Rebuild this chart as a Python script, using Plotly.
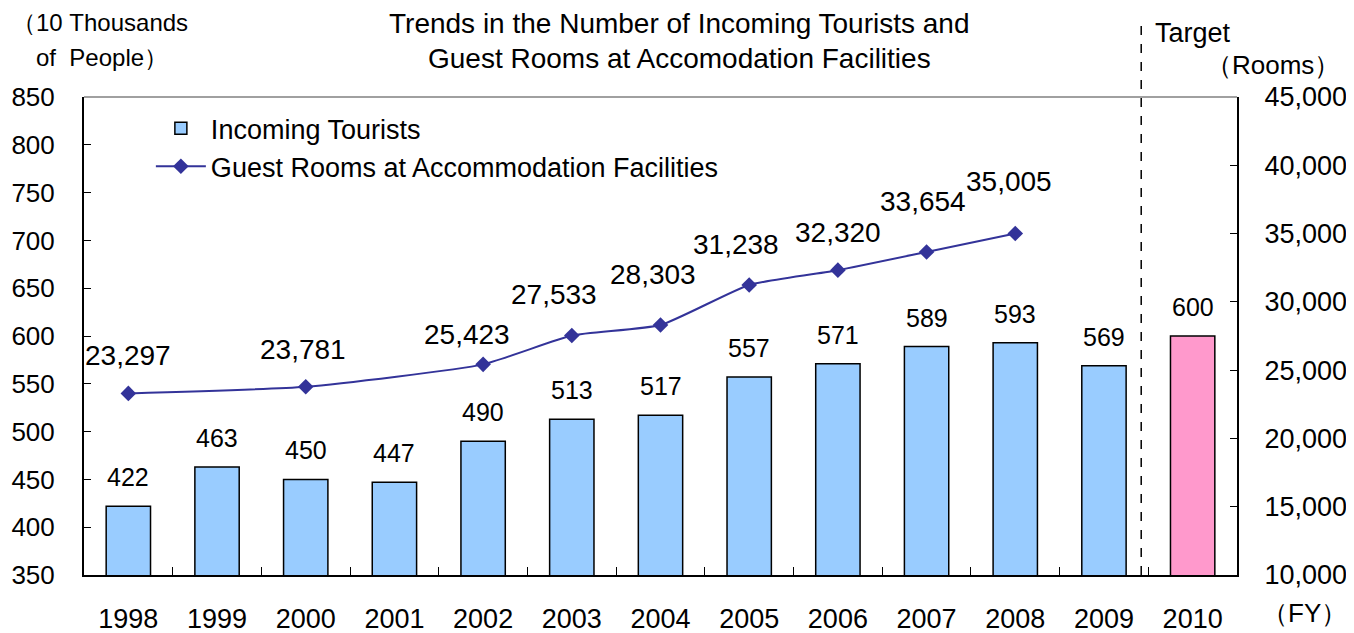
import plotly.graph_objects as go

years = ['1998', '1999', '2000', '2001', '2002', '2003', '2004', '2005', '2006', '2007', '2008', '2009', '2010']
tourists = [422, 463, 450, 447, 490, 513, 517, 557, 571, 589, 593, 569, 600]
room_years = ['1998', '2000', '2002', '2003', '2004', '2005', '2006', '2007', '2008']
rooms = [23297, 23781, 25423, 27533, 28303, 31238, 32320, 33654, 35005]
left_ticks = [350, 400, 450, 500, 550, 600, 650, 700, 750, 800, 850]
right_ticks = [10000, 15000, 20000, 25000, 30000, 35000, 40000, 45000]

# where each rooms label sits relative to its marker (px)
label_dx = [0, -3, -16, -18, -8, -13, 0, -4, -6]
label_dy = [38, 37, 30, 41, 51, 40, 38, 50, 52]

FONT = 'Liberation Sans, Arial, sans-serif'
bar_colors = ['#99CCFF'] * (len(years) - 1) + ['#FF99CC']

fig = go.Figure()
fig.add_trace(go.Bar(x=years, y=tourists, name='Incoming Tourists',
                     marker=dict(color=bar_colors, line=dict(color='black', width=1.5)),
                     width=0.5))
fig.add_trace(go.Scatter(x=room_years, y=rooms, name='Guest Rooms at Accommodation Facilities',
                         mode='lines+markers', yaxis='y2',
                         line=dict(color='#333399', width=2, shape='spline', smoothing=0.5),
                         marker=dict(symbol='diamond', size=12, color='#333399')))

# bar value labels (category axis -> index positions)
for i, v in enumerate(tourists):
    fig.add_annotation(x=i, y=v, text=str(v), showarrow=False, yshift=29,
                       font=dict(size=25, color='black', family=FONT))
# rooms value labels
for yr, v, dx, dy in zip(room_years, rooms, label_dx, label_dy):
    fig.add_annotation(x=years.index(yr), y=v, yref='y2', text=f'{v:,}', showarrow=False,
                       xshift=dx, yshift=dy, font=dict(size=28, color='black', family=FONT))

# dashed separator before target year
fig.add_shape(type='line', xref='x', yref='paper', x0=11.42, x1=11.42, y0=0, y1=1.161,
              line=dict(color='black', width=1.5, dash='dash'))
# top frame line
fig.add_shape(type='line', xref='paper', yref='paper', x0=0, x1=1, y0=1, y1=1,
              line=dict(color='#808080', width=1.5))

def note(text, x, y, xanchor, size):
    fig.add_annotation(xref='paper', yref='paper', x=x, y=y, xanchor=xanchor, yanchor='middle',
                       text=text, showarrow=False, font=dict(size=size, color='black', family=FONT))

note('Trends in the Number of Incoming Tourists and', 0.5165, 1.153, 'center', 28)
note('Guest Rooms at Accomodation Facilities', 0.5165, 1.0814, 'center', 28)
note('\uff0810 Thousands', -0.064, 1.1566, 'left', 24)
note('of  People\uff09', -0.043, 1.0835, 'left', 24)
note('Target', 0.927, 1.1336, 'left', 27)
note('\uff08Rooms\uff09', 1.091, 1.0668, 'right', 26)
note('\uff08FY\uff09', 1.097, -0.08, 'right', 26)

fig.update_layout(
    width=1346, height=625,
    margin=dict(l=76, r=117, t=89, b=58),
    plot_bgcolor='white', paper_bgcolor='white',
    font=dict(family=FONT, color='black'),
    showlegend=True,
    legend=dict(x=0.058, y=0.985, xanchor='left', yanchor='top', bgcolor='rgba(0,0,0,0)',
                font=dict(size=27, family=FONT), tracegroupgap=0, itemwidth=50),
    xaxis=dict(type='category', showline=True, linecolor='black', linewidth=2,
               ticks='inside', ticklen=8, tickcolor='black', tickson='boundaries',
               tickfont=dict(size=27), ticklabelstandoff=19, showgrid=False,
               range=[-0.5, 12.5], automargin=False),
    yaxis=dict(range=[350, 850], tickvals=left_ticks, showline=True, linecolor='black', linewidth=2,
               ticks='inside', ticklen=7, tickcolor='black', showgrid=False,
               tickfont=dict(size=26), ticklabelstandoff=22, zeroline=False, automargin=False),
    yaxis2=dict(range=[10000, 45000], tickvals=right_ticks, tickformat=',', overlaying='y', side='right',
                showline=True, linecolor='black', linewidth=2, ticks='inside', ticklen=7,
                tickcolor='black', showgrid=False, tickfont=dict(size=27), ticklabelstandoff=20,
                zeroline=False, automargin=False),
    bargap=0.5,
)

fig.write_html('out.html')
